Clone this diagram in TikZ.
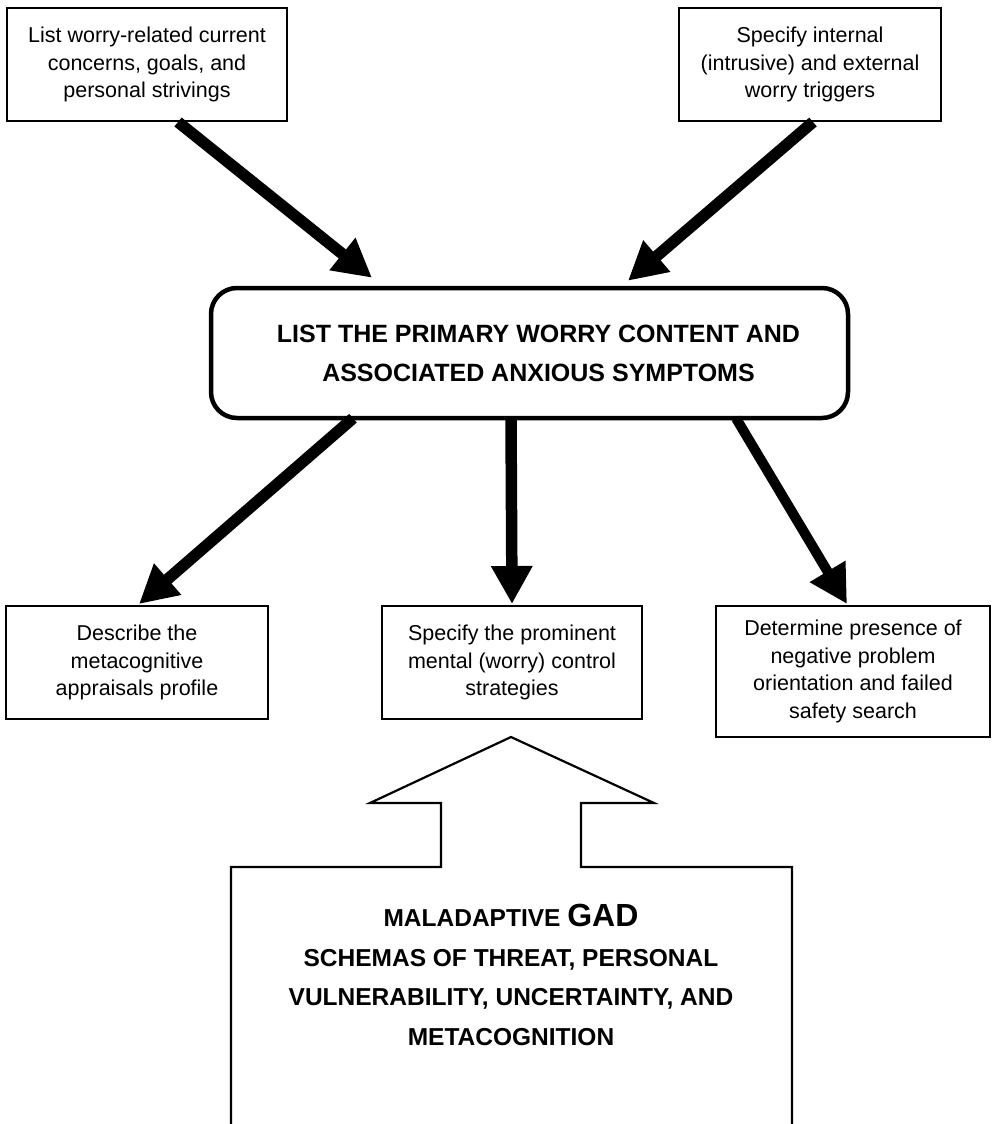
\documentclass[tikz,border=0pt]{standalone}
\usepackage{fontspec}
\setmainfont{Liberation Sans}
\usetikzlibrary{arrows.meta,calc}

\tikzset{
  stepbox/.style={draw, line width=2pt, align=center, inner sep=0pt,
    font=\fontsize{21.5}{27.5}\selectfont},
  hubbox/.style={draw, line width=4.5pt, rounded corners=26pt, align=center,
    inner sep=0pt, font=\bfseries\fontsize{25}{39}\selectfont},
  fatarrow/.style={line width=11.5pt, -{Triangle[length=38pt,width=39pt]}},
  blockarrow/.style={draw, line width=2.2pt, line join=miter},
  schematext/.style={align=center, inner sep=0pt,
    font=\bfseries\fontsize{24.5}{39.5}\selectfont}
}

\begin{document}
\begin{tikzpicture}[x=1pt,y=-1pt]
  \useasboundingbox (0,0) rectangle (992,1124);

  % sources feeding the primary worry content
  \node[stepbox, minimum width=280pt, minimum height=113pt] (tl) at (147,64.5)
    {List worry-related current\\concerns, goals, and\\personal strivings};
  \node[stepbox, minimum width=262pt, minimum height=113pt] (tr) at (810,64.5)
    {Specify internal\\(intrusive) and external\\worry triggers};

  % central assessment step
  \node[hubbox, minimum width=637pt, minimum height=130pt] (ctr) at (529.5,353)
    {\hspace*{18pt}LIST THE PRIMARY WORRY CONTENT AND\\\hspace*{18pt}ASSOCIATED ANXIOUS SYMPTOMS};

  % follow-up assessment steps
  \node[stepbox, minimum width=262pt, minimum height=113pt] (bl) at (137,662.5)
    {Describe the\\metacognitive\\appraisals profile};
  \node[stepbox, minimum width=260pt, minimum height=113pt] (bm) at (512,662.5)
    {Specify the prominent\\mental (worry) control\\strategies};
  \node[stepbox, minimum width=274pt, minimum height=131pt] (br) at (853,671.5)
    {Determine presence of\\negative problem\\orientation and failed\\safety search};

  % thick arrows
  \draw[fatarrow] ([xshift=31pt]tl.south) -- ([xshift=-157.5pt,yshift=8pt]ctr.north);
  \draw[fatarrow] ([xshift=3pt]tr.south) -- ([xshift=98.5pt,yshift=5pt]ctr.north);
  \draw[fatarrow] ([xshift=-176.5pt,yshift=2pt]ctr.south) -- ([xshift=2pt,yshift=1pt]bl.north);
  \draw[fatarrow] ([xshift=-18.5pt,yshift=2pt]ctr.south) -- ([yshift=1pt]bm.north);
  \draw[fatarrow, line width=10pt] ([xshift=206.5pt,yshift=2pt]ctr.south) -- ([xshift=-6pt,yshift=1pt]br.north);

  % schema block with upward block arrow
  \path[blockarrow] (231,1126) -- (231,867) -- (441,867) -- (441,803) -- (370,803)
    -- (511,737) -- (654,803) -- (581,803) -- (581,867) -- (792,867) -- (792,1126);
  \node[schematext] (schema) at (511,975)
    {MALADAPTIVE {\fontsize{32}{39.5}\selectfont GAD}\\SCHEMAS OF THREAT, PERSONAL\\VULNERABILITY, UNCERTAINTY, AND\\METACOGNITION};
\end{tikzpicture}
\end{document}
